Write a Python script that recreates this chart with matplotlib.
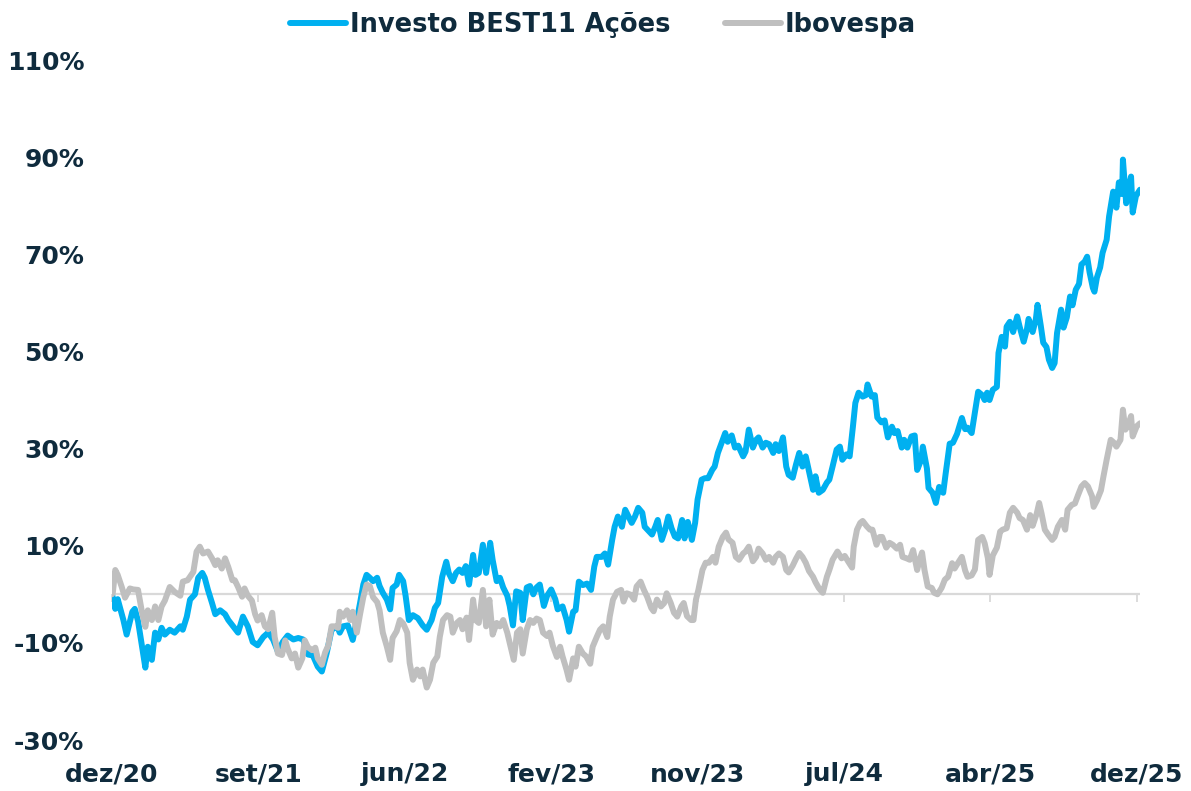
import matplotlib
matplotlib.use("Agg")
import matplotlib.pyplot as plt
import numpy as np

# cumulative return (%) by trading day since dez/20
best_days = [0, 1, 4, 7, 14, 18, 25, 28, 32, 37, 41, 44, 49, 53, 57, 61, 65, 71, 77, 84, 87,
             92, 96, 102, 106, 111, 114, 118, 123, 127, 133, 139, 143, 149, 155, 161, 167, 173,
             179, 186, 192, 198, 204, 210, 216, 223, 229, 235, 241, 247, 253, 258, 264, 270,
             277, 280, 284, 290, 296, 301, 305, 309, 313, 317, 321, 326, 329, 333, 338, 342,
             345, 350, 353, 358, 361, 365, 370, 376, 382, 387, 393, 397, 401, 406, 411, 414,
             419, 423, 427, 431, 435, 439, 444, 447, 451, 456, 460, 465, 468, 473, 477, 481,
             486, 489, 493, 497, 502, 505, 510, 514, 518, 522, 526, 531, 535, 540, 545, 548,
             554, 559, 562, 567, 570, 574, 579, 584, 589, 593, 596, 602, 606, 610, 615, 618,
             622, 627, 631, 634, 639, 643, 647, 652, 655, 659, 664, 668, 671, 676, 680, 684,
             688, 692, 696, 701, 704, 708, 713, 717, 720, 725, 729, 733, 738, 741, 745, 750,
             754, 757, 762, 766, 770, 776, 779, 783, 788, 792, 795, 800, 804, 808, 813, 816,
             820, 825, 829, 832, 837, 841, 845, 849, 853, 857, 862, 865, 869, 874, 879, 882,
             886, 891, 895, 898, 903, 907, 911, 914, 918, 923, 927, 929, 934, 938, 941, 946,
             950, 954, 959, 962, 966, 971, 974, 978, 983, 987, 990, 995, 997, 1002, 1004, 1009,
             1013, 1017, 1022, 1025, 1030, 1034, 1039, 1045, 1049, 1052, 1057, 1061, 1065,
             1070, 1073, 1076, 1079, 1083, 1088, 1090, 1094, 1098, 1100, 1104, 1108, 1113,
             1116, 1121, 1125, 1127, 1132, 1136, 1138, 1142, 1145, 1149, 1152, 1156, 1159,
             1162, 1167, 1170, 1174, 1178, 1181, 1185, 1189, 1192, 1196, 1199, 1202, 1206,
             1208, 1211, 1215, 1218, 1223, 1226, 1231, 1233, 1235, 1238, 1242, 1243, 1247,
             1249, 1253, 1255, 1259, 1264]
best_ret = [0.0, -0.7, -3.0, -1.0, -5.3, -8.3, -3.6, -3.0, -5.5, -10.8, -15.1, -10.8, -13.5,
            -7.9, -9.3, -6.9, -8.3, -7.3, -7.9, -6.6, -7.3, -4.6, -1.1, 0.0, 3.4, 4.4, 3.4,
            0.9, -1.8, -4.1, -3.3, -4.1, -5.3, -6.6, -7.9, -4.6, -6.6, -9.8, -10.5, -8.8, -7.9,
            -9.3, -11.8, -9.8, -8.5, -9.3, -9.0, -9.3, -12.4, -12.6, -14.9, -15.9, -12.1, -7.3,
            -6.6, -7.9, -6.6, -6.4, -9.4, -5.3, -1.8, 2.0, 4.0, 3.4, 2.7, 3.4, 1.7, 0.3, -1.1,
            -3.1, 1.3, 2.0, 4.0, 2.7, -0.3, -5.3, -4.3, -4.9, -6.4, -7.3, -5.3, -2.8, -1.8,
            3.6, 6.7, 4.4, 2.7, 4.4, 5.1, 4.4, 5.8, 2.0, 8.1, 4.0, 4.4, 10.2, 4.4, 10.6, 7.1,
            2.7, 3.4, 1.4, -0.3, -2.4, -6.4, 0.6, 0.3, -5.3, 1.4, 1.7, 0.0, 1.4, 2.0, -2.4,
            -0.3, 1.0, -1.0, -3.1, -2.5, -5.3, -7.7, -3.6, -3.3, 2.6, 1.9, 2.2, 0.9, 5.7, 7.7,
            7.7, 8.4, 6.1, 11.2, 13.9, 16.0, 13.9, 17.4, 16.4, 14.7, 16.0, 17.8, 16.8, 13.9,
            13.2, 12.3, 13.9, 15.3, 11.2, 13.2, 16.0, 13.6, 11.9, 11.5, 15.3, 11.5, 14.9, 11.2,
            14.7, 19.5, 23.6, 23.9, 23.9, 25.6, 26.3, 29.1, 31.4, 33.2, 31.4, 32.7, 30.2, 30.6,
            28.4, 29.4, 33.9, 30.2, 31.8, 32.3, 30.2, 31.2, 30.9, 29.1, 30.9, 29.5, 32.3, 26.3,
            24.6, 24.0, 26.7, 29.1, 26.3, 28.4, 25.3, 21.5, 24.3, 20.9, 21.5, 23.0, 23.6, 26.3,
            29.8, 30.4, 27.7, 28.8, 28.4, 34.5, 39.4, 41.5, 40.7, 41.0, 43.2, 40.7, 41.0, 36.4,
            35.4, 35.8, 32.3, 34.5, 33.2, 33.6, 30.2, 31.8, 30.2, 32.5, 32.7, 25.6, 27.7, 30.4,
            25.9, 21.9, 20.9, 18.8, 22.1, 20.9, 24.8, 31.0, 31.2, 33.0, 36.3, 34.0, 34.3, 33.2,
            37.4, 41.7, 41.0, 40.0, 41.5, 40.0, 42.1, 42.7, 49.7, 53.0, 51.0, 55.1, 56.1, 54.0,
            57.2, 55.1, 52.0, 54.6, 56.7, 54.0, 56.7, 59.6, 55.3, 51.8, 50.9, 48.3, 46.6, 47.6,
            53.8, 58.6, 54.9, 57.0, 61.3, 59.5, 62.7, 63.9, 67.9, 68.5, 69.5, 66.3, 63.1, 62.3,
            65.2, 67.3, 70.3, 73.0, 77.8, 82.9, 81.2, 79.6, 84.8, 82.4, 89.5, 80.5, 82.9, 86.0,
            78.6, 82.0, 83.3]

ibov_days = [0, 1, 4, 7, 12, 16, 22, 26, 32, 37, 41, 44, 49, 53, 57, 61, 65, 71, 77, 84, 87,
             93, 100, 104, 108, 112, 118, 123, 127, 130, 135, 139, 143, 148, 151, 155, 160, 163,
             167, 172, 176, 179, 184, 188, 192, 197, 200, 204, 209, 213, 216, 221, 225, 229,
             234, 237, 241, 246, 250, 253, 258, 262, 266, 270, 274, 278, 280, 284, 289, 293,
             296, 301, 305, 309, 313, 317, 321, 326, 329, 333, 338, 342, 345, 350, 354, 358,
             363, 366, 370, 375, 379, 382, 387, 391, 395, 400, 403, 407, 412, 416, 419, 424,
             428, 431, 436, 439, 444, 447, 451, 456, 460, 464, 468, 473, 477, 481, 486, 491,
             494, 498, 502, 505, 510, 514, 518, 522, 526, 530, 535, 538, 542, 547, 551, 554,
             559, 562, 567, 570, 574, 579, 583, 588, 591, 596, 600, 604, 609, 612, 616, 621,
             626, 629, 633, 638, 642, 645, 650, 654, 658, 663, 666, 670, 675, 679, 682, 687,
             691, 695, 700, 703, 707, 712, 715, 718, 721, 726, 730, 734, 739, 742, 746, 751,
             755, 758, 763, 767, 771, 776, 779, 783, 788, 792, 795, 800, 804, 808, 813, 816,
             820, 825, 829, 832, 837, 841, 845, 849, 853, 857, 862, 865, 869, 874, 879, 882,
             886, 892, 897, 901, 905, 910, 912, 916, 920, 923, 928, 932, 935, 940, 944, 947,
             952, 956, 960, 965, 969, 972, 977, 981, 985, 990, 993, 996, 999, 1003, 1008, 1011,
             1015, 1020, 1024, 1028, 1033, 1036, 1040, 1045, 1049, 1052, 1057, 1061, 1065,
             1070, 1073, 1077, 1079, 1083, 1088, 1092, 1095, 1100, 1104, 1108, 1113, 1116,
             1120, 1125, 1129, 1132, 1137, 1140, 1143, 1147, 1151, 1156, 1159, 1163, 1168,
             1172, 1175, 1180, 1184, 1188, 1192, 1196, 1200, 1205, 1207, 1211, 1216, 1219,
             1223, 1228, 1232, 1235, 1240, 1243, 1246, 1249, 1253, 1255, 1260, 1264]
ibov_ret = [0.0, 0.3, 5.0, 4.0, 1.5, -0.7, 1.2, 1.0, 0.9, -3.8, -6.7, -3.3, -5.3, -2.5, -5.3,
            -2.5, -1.3, 1.5, 0.5, -0.3, 2.6, 2.9, 4.6, 8.8, 9.8, 8.4, 8.8, 7.4, 6.0, 7.0, 5.3,
            7.4, 5.6, 2.9, 2.9, 1.5, -0.5, 1.2, -0.3, -1.3, -4.1, -5.4, -4.3, -6.6, -7.2, -3.8,
            -8.8, -12.2, -12.5, -9.5, -11.2, -13.2, -12.2, -15.1, -13.2, -9.5, -10.9, -11.5,
            -11.0, -13.2, -14.5, -12.0, -10.5, -6.6, -6.6, -6.9, -3.6, -4.6, -3.3, -5.3, -3.6,
            -7.9, -4.1, -0.6, 2.0, 1.7, -0.6, -1.6, -3.3, -7.9, -10.8, -13.5, -9.0, -7.6, -5.3,
            -6.0, -7.9, -14.1, -17.6, -15.5, -16.9, -15.5, -19.2, -17.6, -14.1, -12.8, -8.8,
            -5.3, -4.3, -4.6, -7.9, -5.9, -5.3, -7.2, -4.8, -9.4, -1.1, -5.3, -5.9, 0.9, -6.6,
            -1.1, -8.3, -5.9, -6.6, -5.3, -7.9, -11.4, -13.5, -7.9, -7.2, -12.2, -7.2, -5.3,
            -5.9, -5.0, -5.3, -7.9, -8.6, -7.9, -10.6, -12.9, -10.8, -12.8, -15.6, -17.6, -13.2,
            -14.9, -10.8, -12.2, -12.8, -14.3, -10.8, -8.8, -7.3, -6.6, -8.8, -4.6, -1.1, 0.5,
            0.9, -1.5, 0.2, -0.1, -1.1, 1.6, 2.6, 0.9, -0.5, -2.8, -3.5, -1.1, -2.5, -1.8, 0.2,
            -1.8, -3.8, -4.6, -2.5, -1.8, -4.5, -5.3, -5.3, -1.1, 0.9, 5.0, 6.5, 6.5, 7.7, 6.5,
            9.8, 11.8, 12.7, 11.3, 10.6, 7.7, 7.1, 8.4, 8.8, 9.8, 6.8, 7.7, 9.4, 8.4, 7.1, 7.7,
            6.5, 7.7, 8.4, 7.7, 5.0, 4.5, 5.9, 7.3, 8.5, 7.7, 6.5, 4.8, 3.6, 2.5, 1.3, 0.3,
            3.6, 5.0, 7.1, 8.8, 7.4, 7.9, 6.8, 5.5, 9.8, 13.3, 14.7, 15.1, 14.0, 13.3, 13.3,
            10.2, 11.8, 11.8, 9.6, 10.6, 10.2, 9.4, 10.2, 7.7, 7.4, 7.1, 9.1, 5.0, 7.1, 8.6,
            5.0, 1.6, 1.3, 0.3, 0.0, 1.3, 3.0, 3.6, 6.4, 5.3, 6.4, 7.7, 4.9, 3.6, 3.9, 5.1,
            11.2, 11.8, 10.5, 7.4, 4.0, 8.0, 9.6, 12.9, 13.3, 13.6, 16.8, 17.8, 16.8, 15.7,
            15.3, 13.3, 16.3, 14.1, 16.6, 18.8, 16.6, 13.3, 12.3, 11.2, 11.8, 13.9, 15.3, 13.3,
            17.4, 18.4, 18.7, 20.5, 22.2, 22.9, 22.2, 20.2, 18.0, 19.3, 21.4, 24.2, 27.7, 31.8,
            31.2, 30.4, 31.8, 38.0, 33.9, 34.6, 36.7, 32.5, 34.6, 35.2]

tick_days = [0, 180, 360, 540, 720, 900, 1080, 1260]
tick_labels = ["dez/20", "set/21", "jun/22", "fev/23", "nov/23", "jul/24", "abr/25", "dez/25"]
y_ticks = [-30, -10, 10, 30, 50, 70, 90, 110]

navy = "#0F2B3D"
blue = "#00B0F0"
grey = "#BFBFBF"
plt.rcParams["font.family"] = ["DejaVu Sans"]
plt.rcParams["font.weight"] = "bold"

fig = plt.figure(figsize=(11.91, 7.91), dpi=100)
ax = fig.add_axes([112/1191, 51/791, 1028/1191, 680/791])

ax.axhline(0, color="#D9D9D9", lw=1.6, zorder=1)
ax.plot(best_days, best_ret, color=blue, lw=4.3, solid_joinstyle="round",
        solid_capstyle="round", label="Investo BEST11 Ações", zorder=2)
ax.plot(ibov_days, ibov_ret, color=grey, lw=4.3, solid_joinstyle="round",
        solid_capstyle="round", label="Ibovespa", zorder=3)

ax.set_xlim(0, 1264)
ax.set_ylim(-30, 110)
ax.set_yticks(y_ticks)
ax.set_yticklabels([f"{v}%" for v in y_ticks])
ax.set_xticks(tick_days)
ax.set_xticklabels(tick_labels)
ax.tick_params(axis="both", length=0, labelsize=18, labelcolor=navy)
ax.tick_params(axis="y", pad=20)
ax.tick_params(axis="x", pad=16)
for s in ax.spines.values():
    s.set_visible(False)

# small tick marks hanging from the zero line
sec = ax.secondary_xaxis(30/140)
sec.set_xticks(tick_days)
sec.tick_params(axis="x", direction="out", length=6, width=1.3, color="#D9D9D9",
                labelbottom=False, labeltop=False)
sec.spines["bottom"].set_visible(False)
sec.spines["top"].set_visible(False)

handles, labels = ax.get_legend_handles_labels()
leg = fig.legend(handles, labels, loc="center", bbox_to_anchor=(603/1191, 1 - 25/791),
                 ncol=2, frameon=False, prop={"size": 18.5, "weight": "bold"},
                 handlelength=2.2, handletextpad=0.15, columnspacing=2.1)
for t in leg.get_texts():
    t.set_color(navy)
for h in leg.get_lines():
    h.set_linewidth(4.3)

fig.savefig("out.png", dpi=100)
